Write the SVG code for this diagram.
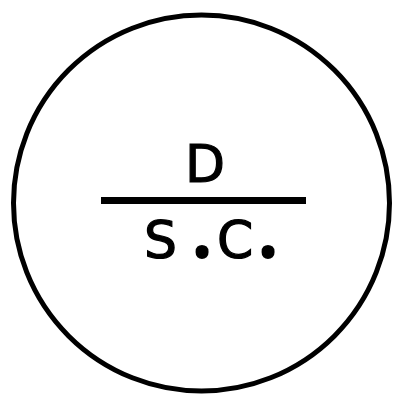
<svg xmlns="http://www.w3.org/2000/svg" width="407" height="403" viewBox="0 0 407 403">
<style>
.t{font-family:"DejaVu Sans","Liberation Sans",sans-serif;font-size:52px;fill:#000;stroke:#000;stroke-width:1.2}
.p{font-family:"Noto Sans","DejaVu Sans",sans-serif;font-size:105px;stroke-width:0}
</style>
<rect width="407" height="403" fill="#fff"/>
<g id="node">
<circle cx="201.5" cy="203" r="188" fill="none" stroke="#000" stroke-width="5"/>
<line x1="101" y1="200.5" x2="306" y2="200.5" stroke="#000" stroke-width="7"/>
<text class="t" x="205" y="182" text-anchor="middle">D</text>
<text class="t" y="258"><tspan x="144">S</tspan><tspan class="p" x="188">.</tspan><tspan x="217">C</tspan><tspan class="p" x="254">.</tspan></text>
</g>
</svg>
